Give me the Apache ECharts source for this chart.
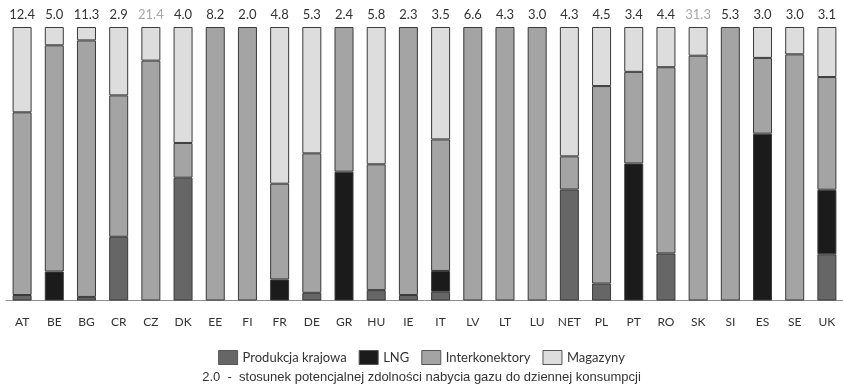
<!DOCTYPE html>
<html>
<head>
<meta charset="utf-8">
<script src="https://cdn.jsdelivr.net/npm/echarts@6/dist/echarts.min.js"></script>
<style>
html,body{margin:0;padding:0;background:#fff;}
#chart{width:843px;height:389px;}
</style>
</head>
<body>
<div id="chart"></div>
<script>
const categories = ['AT','BE','BG','CR','CZ','DK','EE','FI','FR','DE','GR','HU','IE','IT','LV','LT','LU','NET','PL','PT','RO','SK','SI','ES','SE','UK'];
const ratio = [12.4,5.0,11.3,2.9,21.4,4.0,8.2,2.0,4.8,5.3,2.4,5.8,2.3,3.5,6.6,4.3,3.0,4.3,4.5,3.4,4.4,31.3,5.3,3.0,3.0,3.1];
const greyRatio = ['CZ','SK'];
const produkcja = [2.0,0,1.3,23.3,0,44.9,0,0,0,2.8,0,3.8,2.0,3.2,0,0,0,40.6,6.2,0,17.2,0,0,0,0,16.9];
const lng = [0,10.6,0,0,0,0,0,0,7.7,0,47.1,0,0,7.6,0,0,0,0,0,50.1,0,0,0,61.0,0,23.6];
const interkonektory = [66.8,82.7,93.8,51.7,87.7,12.7,100,100,35.0,51.0,52.9,46.0,98.0,48.1,100,100,100,12.1,72.2,33.5,68.1,89.5,100,27.7,90.0,41.2];
const magazyny = [31.2,6.7,4.9,25.0,12.3,42.4,0,0,57.3,46.2,0,50.2,0,41.1,0,0,0,47.3,21.6,16.4,14.7,10.5,0,11.3,10.0,18.3];
const seriesNames = ['Produkcja krajowa','LNG','Interkonektory','Magazyny'];
const caption = '2.0  -  stosunek potencjalnej zdolności nabycia gazu do dziennej konsumpcji';

const colors = ['#666666','#1b1b1b','#a4a4a4','#dddddd'];
const font = 'Lato, "Open Sans", sans-serif';
const chart = echarts.init(document.getElementById('chart'));
const barStyle = (c) => ({color: c, borderColor: '#3a3a3a', borderWidth: 1});
const values = [produkcja, lng, interkonektory, magazyny];
const series = seriesNames.map((n, i) => ({
  name: n, type: 'bar', stack: 'a', barWidth: 19,
  itemStyle: barStyle(colors[i]),
  data: values[i].map(v => v === 0 ? '-' : v),
  animation: false
}));
series.push({
  name: 'ratio', type: 'bar', stack: 'a', barWidth: 19,
  data: categories.map((c, i) => ({
    value: 0,
    label: {color: greyRatio.includes(c) ? '#a8a8a8' : '#333333'}
  })),
  label: {
    show: true, position: 'top', distance: 6,
    fontFamily: font, fontSize: 13,
    formatter: (p) => ratio[p.dataIndex].toFixed(1)
  },
  itemStyle: {color: 'transparent', borderWidth: 0},
  animation: false
});
chart.setOption({
  animation: false,
  grid: {left: 6, top: 27, width: 843, bottom: 88.5, containLabel: false},
  xAxis: {
    type: 'category', data: categories,
    axisLine: {lineStyle: {color: '#8c8c8c', width: 1}},
    axisTick: {show: false},
    axisLabel: {color: '#333333', fontFamily: font, fontSize: 12, margin: 16, interval: 0}
  },
  yAxis: {type: 'value', min: 0, max: 100, show: false, splitLine: {show: false}},
  legend: {
    data: seriesNames, top: 345, left: 'center',
    itemWidth: 19, itemHeight: 14, itemGap: 12,
    icon: 'rect',
    itemStyle: {borderColor: '#555555', borderWidth: 1},
    textStyle: {color: '#333333', fontFamily: font, fontSize: 13}
  },
  graphic: [{
    type: 'text', left: 'center', top: 371,
    style: {text: caption, fill: '#333333', font: '13px "Liberation Sans", Arial, sans-serif'}
  }],
  series: series
});
</script>
</body>
</html>
